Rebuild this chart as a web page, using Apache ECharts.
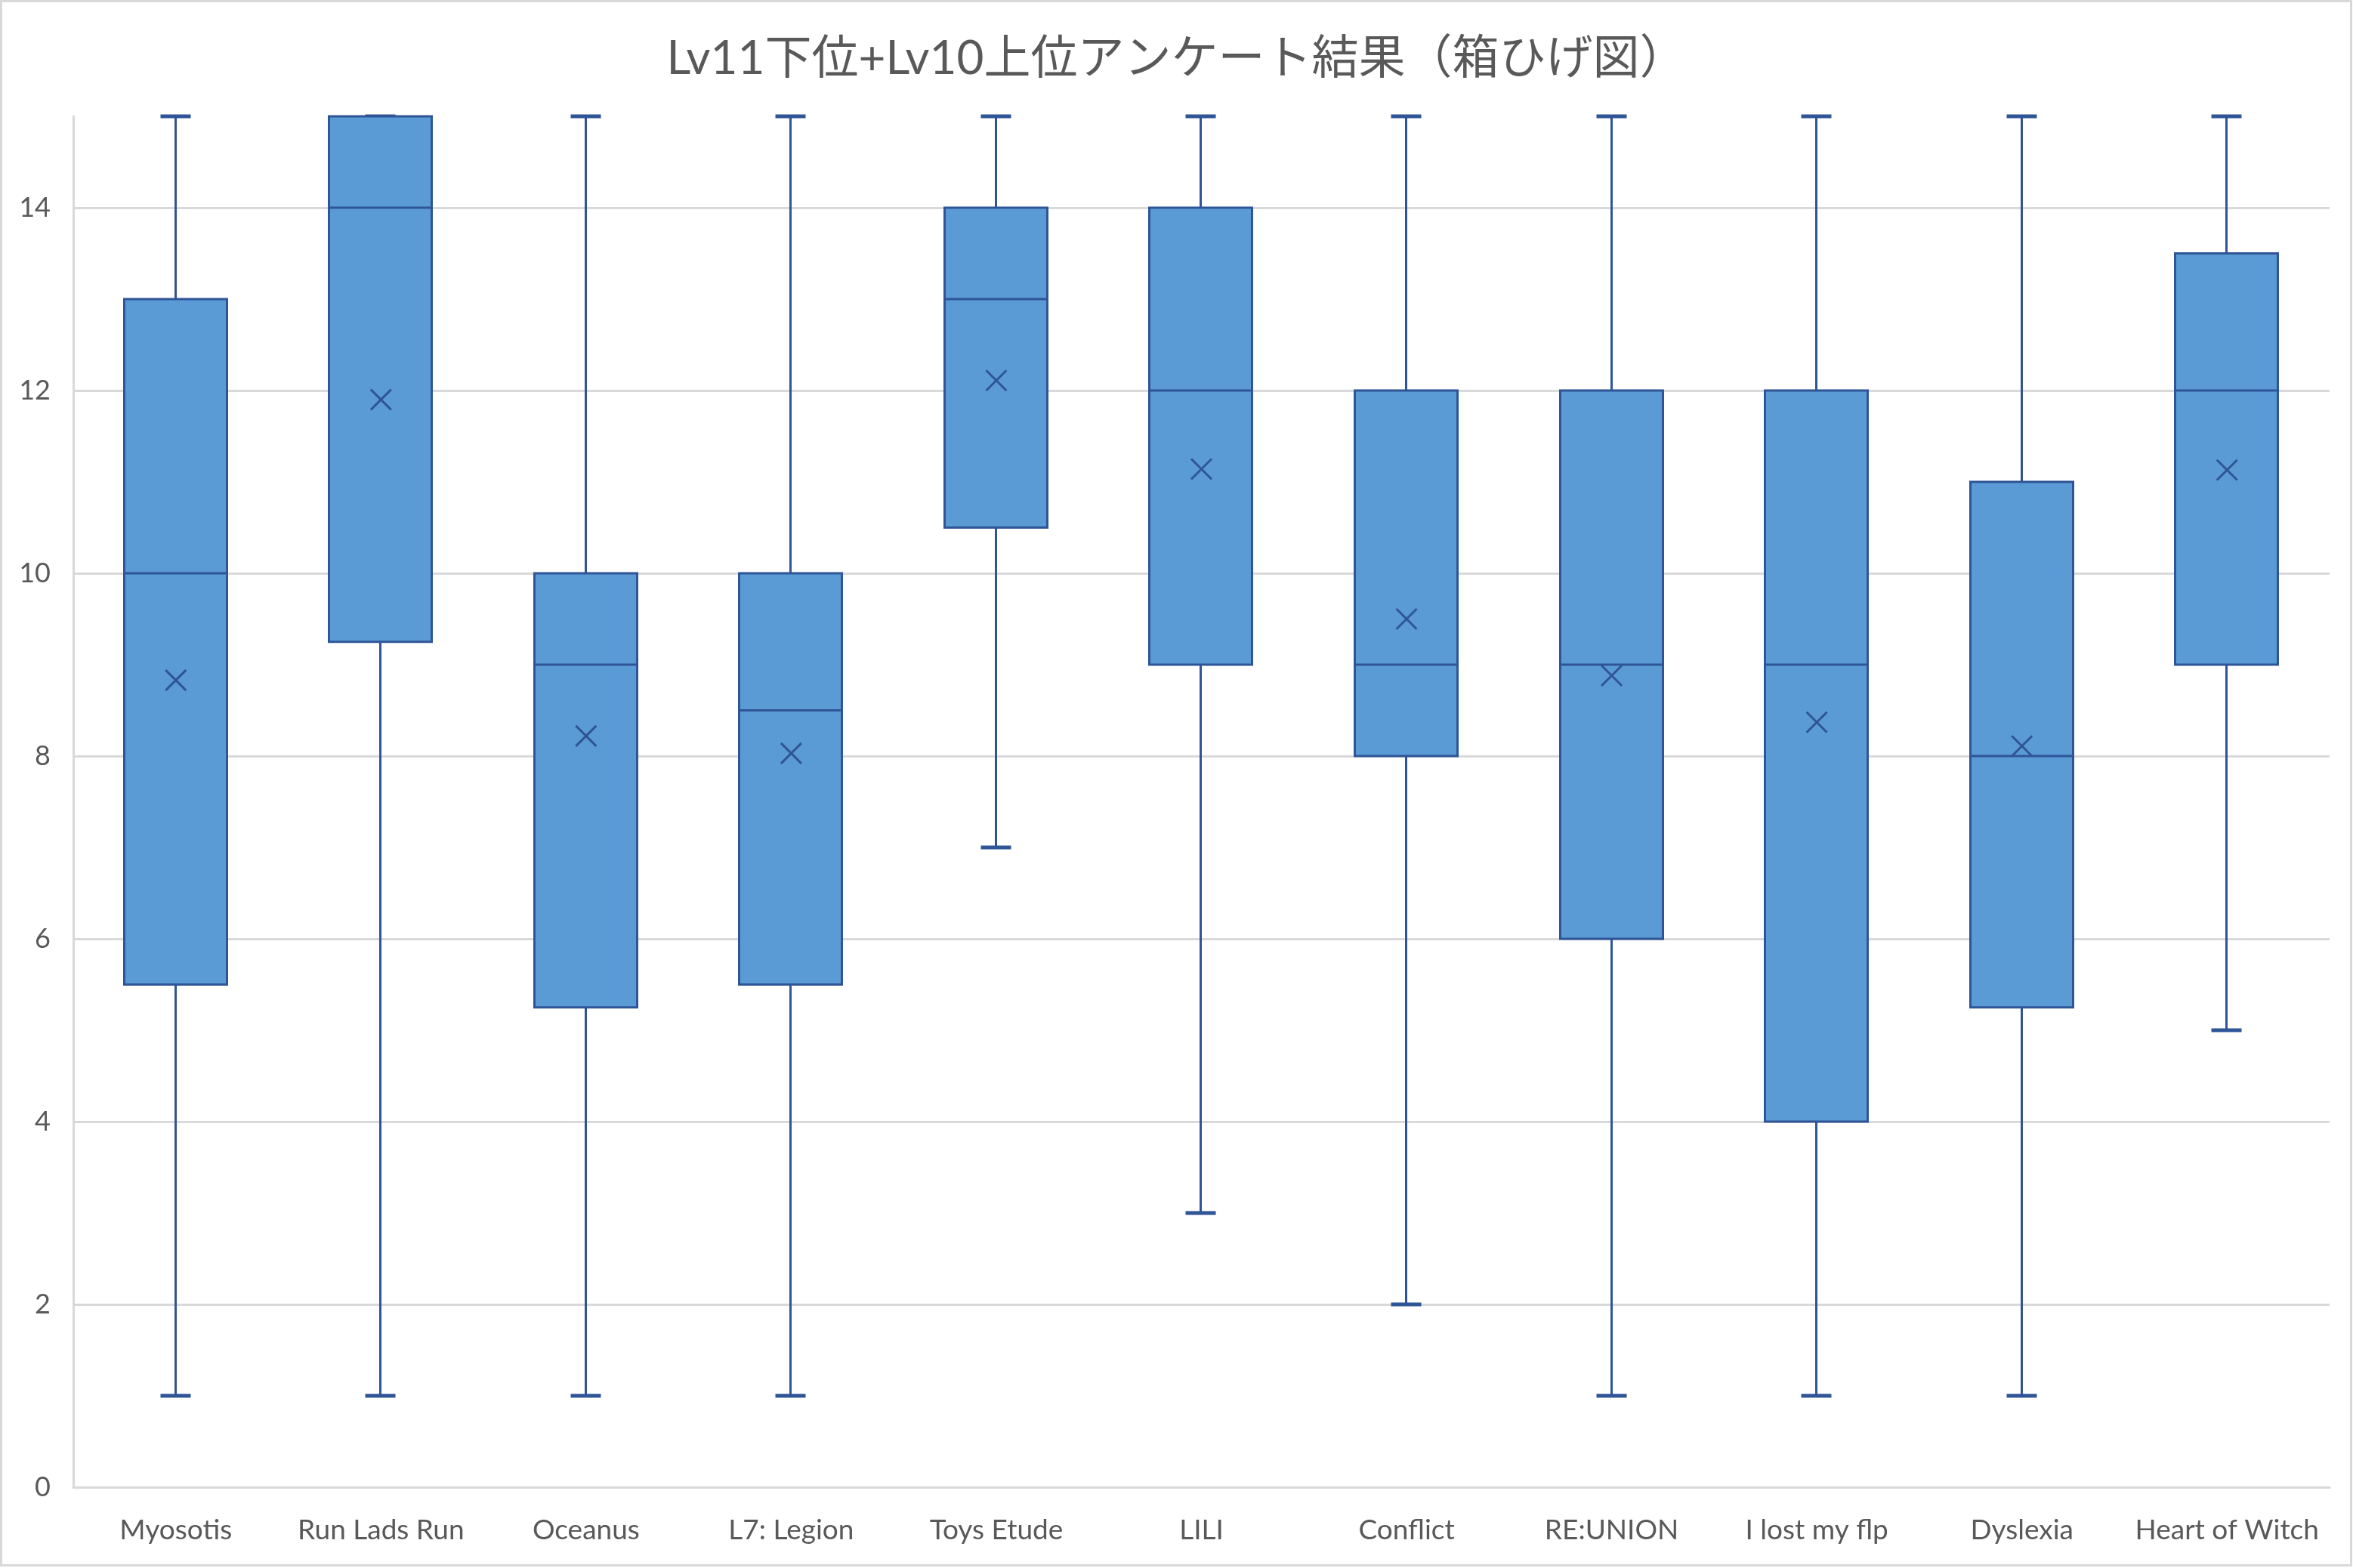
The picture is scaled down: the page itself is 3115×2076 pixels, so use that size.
<!DOCTYPE html>
<html>
<head>
<meta charset="utf-8">
<script src="https://cdn.jsdelivr.net/npm/echarts@6/dist/echarts.min.js"></script>
<style>
html,body{margin:0;padding:0;background:#fff;}
#chart{width:3115px;height:2076px;}
</style>
</head>
<body>
<div id="chart"></div>
<script>
const categories = ['Myosotis','Run Lads Run','Oceanus','L7: Legion','Toys Etude','LILI','Conflict','RE:UNION','I lost my flp','Dyslexia','Heart of Witch'];
const minValues    = [1, 1, 1, 1, 7, 3, 2, 1, 1, 1, 5];
const q1Values     = [5.5, 9.25, 5.25, 5.5, 10.5, 9, 8, 6, 4, 5.25, 9];
const medianValues = [10, 14, 9, 8.5, 13, 12, 9, 9, 9, 8, 12];
const q3Values     = [13, 15, 10, 10, 14, 14, 12, 12, 12, 11, 13.5];
const maxValues    = [15, 15, 15, 15, 15, 15, 15, 15, 15, 15, 15];
const meanValues   = [8.83, 11.9, 8.22, 8.03, 12.11, 11.14, 9.5, 8.88, 8.37, 8.11, 11.13];
const yTicks = [0, 2, 4, 6, 8, 10, 12, 14];

const boxData = categories.map((c, i) => [i, minValues[i], q1Values[i], medianValues[i], q3Values[i], maxValues[i], meanValues[i]]);

const LINE = '#2F5597';
const FILL = '#5B9BD5';
const GRID = '#D9D9D9';
const TEXT = '#595959';

function renderBox(params, api) {
  const i = api.value(0);
  const pMin = api.coord([i, api.value(1)]);
  const pQ1 = api.coord([i, api.value(2)]);
  const pMed = api.coord([i, api.value(3)]);
  const pQ3 = api.coord([i, api.value(4)]);
  const pMax = api.coord([i, api.value(5)]);
  const pMean = api.coord([i, api.value(6)]);
  const band = api.size([1, 0])[0];
  const boxW = Math.round(band * 0.5);
  const capW = Math.round(band * 0.147);
  const cx = Math.round(pMed[0]) - 0.5;
  const half = boxW / 2;
  const capH = capW / 2;
  const xs = 13.5;
  const st = {stroke: LINE, lineWidth: 3};
  return {
    type: 'group',
    children: [
      {type: 'line', shape: {x1: cx, y1: pQ3[1], x2: cx, y2: pMax[1]}, style: st},
      {type: 'line', shape: {x1: cx, y1: pQ1[1], x2: cx, y2: pMin[1]}, style: st},
      {type: 'line', shape: {x1: cx - capH, y1: pMax[1], x2: cx + capH, y2: pMax[1]}, style: Object.assign({}, st, {lineWidth: 5})},
      {type: 'line', shape: {x1: cx - capH, y1: pMin[1], x2: cx + capH, y2: pMin[1]}, style: Object.assign({}, st, {lineWidth: 5})},
      {type: 'rect', shape: {x: cx - half, y: pQ3[1], width: boxW, height: pQ1[1] - pQ3[1]}, style: {fill: FILL, stroke: LINE, lineWidth: 3}},
      {type: 'line', shape: {x1: cx - half, y1: pMed[1], x2: cx + half, y2: pMed[1]}, style: st},
      {type: 'line', shape: {x1: pMean[0] - xs, y1: pMean[1] - xs, x2: pMean[0] + xs, y2: pMean[1] + xs}, style: st},
      {type: 'line', shape: {x1: pMean[0] - xs, y1: pMean[1] + xs, x2: pMean[0] + xs, y2: pMean[1] - xs}, style: st}
    ]
  };
}

const chart = echarts.init(document.getElementById('chart'));
chart.setOption({
  backgroundColor: '#ffffff',
  animation: false,
  title: {
    text: 'Lv11下位+Lv10上位アンケート結果（箱ひげ図）',
    left: 'center',
    top: 42,
    textStyle: {
      fontFamily: 'Lato, "Noto Sans CJK JP", sans-serif',
      fontSize: 62,
      fontWeight: 'normal',
      color: TEXT
    }
  },
  graphic: [{
    type: 'rect',
    shape: {x: 1.5, y: 1.5, width: 3111, height: 2071},
    style: {fill: 'none', stroke: GRID, lineWidth: 3},
    silent: true
  }],
  grid: {left: 97, right: 31, top: 154, bottom: 107, containLabel: false},
  xAxis: {
    type: 'category',
    data: categories,
    boundaryGap: true,
    axisLine: {show: true, lineStyle: {color: GRID, width: 3}},
    axisTick: {show: false},
    axisLabel: {
      interval: 0,
      margin: 39,
      fontSize: 37,
      fontFamily: 'Lato, "Noto Sans", sans-serif',
      color: TEXT
    },
    splitLine: {show: false}
  },
  yAxis: {
    type: 'value',
    min: 0,
    max: 15,
    interval: 2,
    axisLine: {show: true, lineStyle: {color: GRID, width: 3}},
    axisTick: {show: false},
    axisLabel: {
      showMaxLabel: false,
      margin: 30,
      fontSize: 36,
      fontFamily: 'Lato, "Noto Sans", sans-serif',
      color: TEXT,
      formatter: v => (yTicks.indexOf(v) >= 0 ? String(v) : '')
    },
    splitLine: {show: true, showMinLine: false, showMaxLine: false, lineStyle: {color: GRID, width: 3}}
  },
  series: [{
    type: 'custom',
    renderItem: renderBox,
    data: boxData,
    encode: {x: 0, y: [1, 2, 3, 4, 5, 6]},
    clip: false,
    z: 3
  }]
});
</script>
</body>
</html>
